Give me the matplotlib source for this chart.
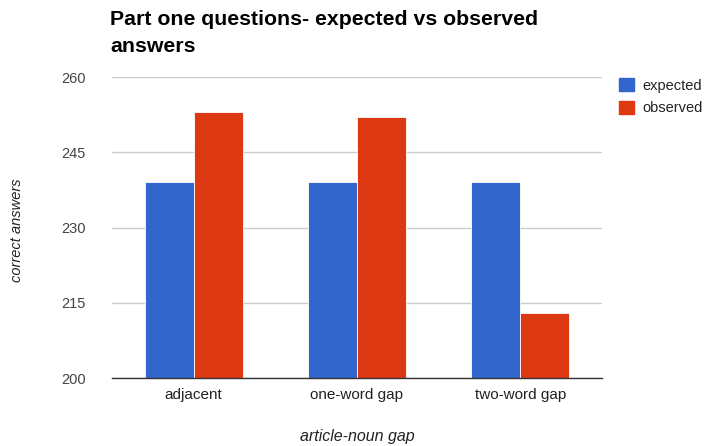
import numpy as np
import matplotlib
matplotlib.use("Agg")
import matplotlib.pyplot as plt
from matplotlib.patches import Patch

# data
categories = ["adjacent", "one-word gap", "two-word gap"]
expected = [239, 239, 239]
observed = [253, 252, 213]
yticks = [200, 215, 230, 245, 260]

plt.rcParams['font.family'] = ['Liberation Sans', 'DejaVu Sans']

fig = plt.figure(figsize=(7.09, 4.46), dpi=100)
ax = fig.add_axes([112/709, 68/446, 490/709, 301/446])

x = np.arange(len(categories))
w = 0.3
ax.bar(x - w/2, expected, width=w, color='#3366cc', edgecolor='white', linewidth=0.6, zorder=3)
ax.bar(x + w/2, observed, width=w, color='#dc3912', edgecolor='white', linewidth=0.6, zorder=3)

ax.set_xlim(-0.5, 2.5)
ax.set_ylim(200, 260)
ax.set_yticks(yticks)
ax.set_xticks(x)
ax.set_xticklabels(categories)
ax.tick_params(length=0, colors='#222222', labelsize=11)
ax.tick_params(axis='y', pad=19, labelcolor='#444444', labelsize=10.5)
ax.tick_params(axis='x', pad=7)
ax.grid(axis='y', color='#cccccc', linewidth=1, zorder=0)
for s in ['top', 'right', 'left']:
    ax.spines[s].set_visible(False)
ax.spines['bottom'].set_color('#333333')
ax.spines['bottom'].set_linewidth(1)
ax.spines['bottom'].set_zorder(4)

fig.text(110/709, 1 - 10/446, "Part one questions- expected vs observed\nanswers",
         ha='left', va='top', fontsize=15.3, fontweight='bold', color='black', linespacing=1.5)
fig.text(17/709, 1 - 230/446, "correct answers", rotation=90, ha='center', va='center',
         fontsize=10.5, style='italic', color='#222222')
fig.text(357/709, 1 - 437/446, "article-noun gap", ha='center', va='center',
         fontsize=11.5, style='italic', color='#222222')

handles = [Patch(color='#3366cc'), Patch(color='#dc3912')]
fig.legend(handles, ['expected', 'observed'], loc='upper left', bbox_to_anchor=(606/709, 1 - 65/446),
           frameon=False, fontsize=10.5, handlelength=1.0, handleheight=1.0, handletextpad=0.6,
           labelspacing=0.55, labelcolor='#222222')

fig.savefig("out.png", dpi=100)
